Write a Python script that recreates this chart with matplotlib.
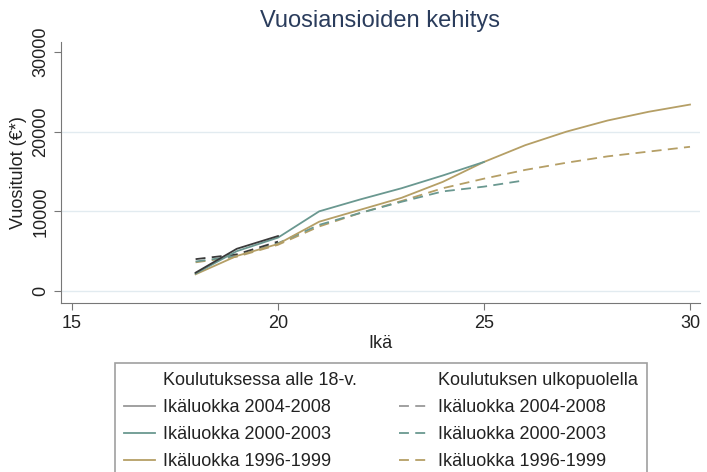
import matplotlib
matplotlib.use("Agg")
import matplotlib.pyplot as plt
from matplotlib.lines import Line2D

plt.rcParams['font.family'] = ['Liberation Sans', 'DejaVu Sans']

# Koulutuksessa alle 18-v. (solid)
age_a = [18, 19, 20]
in_a = [2300, 5300, 6900]                      # Ikäluokka 2004-2008
age_b = [18, 19, 20, 21, 22, 23, 24, 25]
in_b = [2200, 5000, 6700, 10000, 11500, 12900, 14500, 16200]  # 2000-2003
age_c = [18, 19, 20, 21, 22, 23, 24, 25, 26, 27, 28, 29, 30]
in_c = [2100, 4400, 5900, 8700, 10200, 11700, 13700, 16200, 18300, 20000,
        21400, 22500, 23400]                   # 1996-1999

# Koulutuksen ulkopuolella (dashed)
out_a = [4000, 4600, 6200]
age_b2 = [18, 19, 20, 21, 22, 23, 24, 25, 26]
out_b = [3700, 4400, 6000, 8300, 9800, 11200, 12500, 13100, 13900]
out_c = [3600, 4300, 5800, 8100, 9800, 11300, 12900, 14100, 15200, 16100,
         16900, 17500, 18100]

labels = ['Ikäluokka 2004-2008', 'Ikäluokka 2000-2003', 'Ikäluokka 1996-1999']
headers = ['Koulutuksessa alle 18-v.', 'Koulutuksen ulkopuolella']
xticks = [15, 20, 25, 30]
yticks = [0, 10000, 20000, 30000]

c_black = '#3a3a3a'
c_teal = '#6a9890'
c_gold = '#b59f66'
dash = (0, (5.5, 3.5))

fig = plt.figure(figsize=(7.07, 4.72), dpi=100)
ax = fig.add_axes([61/707, 1-303/472, 639/707, 261/472])

for y in [0, 10000, 20000]:
    ax.axhline(y, color='#e2ebf0', lw=1, zorder=0)

ax.plot(age_c, out_c, color=c_gold, lw=1.3, ls=dash)
ax.plot(age_b2, out_b, color=c_teal, lw=1.3, ls=dash)
ax.plot(age_a, out_a, color=c_black, lw=1.3, ls=dash)
ax.plot(age_c, in_c, color=c_gold, lw=1.3)
ax.plot(age_b, in_b, color=c_teal, lw=1.3)
ax.plot(age_a, in_a, color=c_black, lw=1.3)

ax.set_xlim(14.733, 30.243)
ax.set_ylim(-1506, 31254)
ax.set_xticks(xticks)
ax.set_yticks(yticks)
for s in ['top', 'right']:
    ax.spines[s].set_visible(False)
for s in ['left', 'bottom']:
    ax.spines[s].set_color('#777777')
ax.tick_params(colors='#777777', labelcolor='#222222', labelsize=13, length=5)
ax.tick_params(axis='y', labelrotation=90)
for t in ax.get_yticklabels():
    t.set_va('center')
ax.set_xlabel('Ikä', fontsize=13, color='#222222', labelpad=2)
ax.set_ylabel('Vuositulot (€*)', fontsize=13, color='#222222', labelpad=4)
ax.set_title('Vuosiansioiden kehitys', fontsize=17, color='#2a3c5c', pad=11)

blank = Line2D([], [], color='none')
handles = [blank,
           Line2D([], [], color='#999999', lw=1.3),
           Line2D([], [], color=c_teal, lw=1.3),
           Line2D([], [], color=c_gold, lw=1.3),
           blank,
           Line2D([], [], color='#999999', lw=1.3, ls=dash),
           Line2D([], [], color=c_teal, lw=1.3, ls=dash),
           Line2D([], [], color=c_gold, lw=1.3, ls=dash)]
texts = [headers[0]] + labels + [headers[1]] + labels
top = 1 - 363/472
leg = fig.legend(handles, texts, loc='upper left', ncol=2, mode='expand',
                 bbox_to_anchor=(115/707, top - 0.3, 532/707, 0.3),
                 fontsize=13, frameon=True, fancybox=False, edgecolor='#888888',
                 handlelength=1.7, handletextpad=0.45, labelspacing=0.55,
                 borderaxespad=0, borderpad=0.5, columnspacing=1.0)
leg.get_frame().set_linewidth(1.2)
for t in leg.get_texts():
    t.set_color('#222222')

fig.savefig('out.png', dpi=100)
